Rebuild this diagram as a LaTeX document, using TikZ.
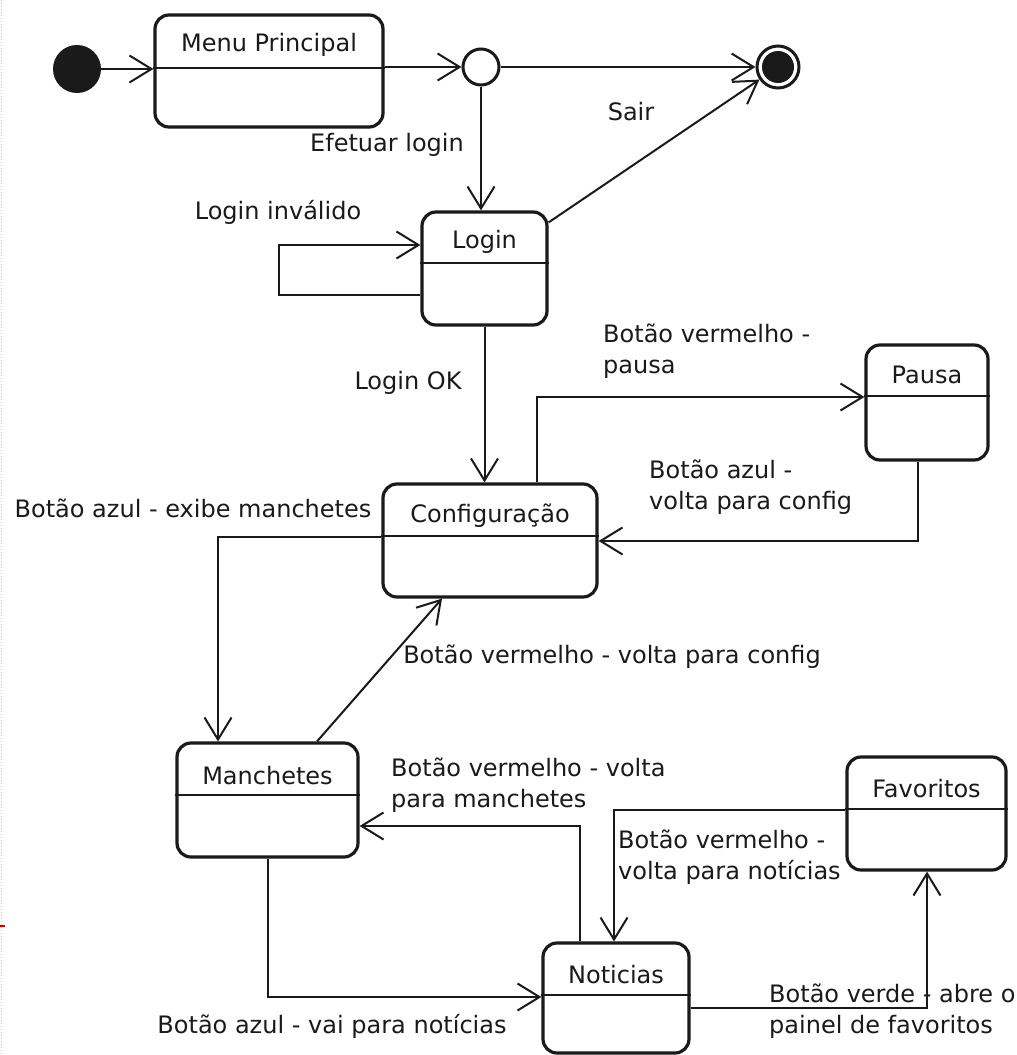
\documentclass[tikz,border=0pt]{standalone}
\usepackage{fontspec}
\setmainfont{DejaVu Sans}
\usetikzlibrary{arrows.meta}
\definecolor{ink}{HTML}{1A1A1A}
\tikzset{
  stbox/.style={draw=ink, line width=3.2pt, rounded corners=14pt, fill=white},
  stname/.style={font=\fontsize{24}{31}\selectfont, text=ink, inner sep=0pt},
  divider/.style={draw=ink, line width=2pt},
  trans/.style={draw=ink, line width=2pt, -{Straight Barb[length=22pt,width=27pt]}},
  lbl/.style={font=\fontsize{24}{31}\selectfont, text=ink, inner sep=0pt, align=left},
}
\begin{document}
\begin{tikzpicture}[x=1pt, y=-1pt]
\useasboundingbox[fill=white] (0,0) rectangle (1017,1055);
% page edge marks
\draw[gray!45, line width=1pt, dotted] (1,0) -- (1,1055);
\draw[red!80!black, line width=1.5pt] (0,926) -- (5,926);

% pseudo states
\node[circle, fill=ink, minimum size=48pt, inner sep=0pt] (init) at (77,69) {};
\node[circle, draw=ink, fill=white, line width=3pt, minimum size=36pt, inner sep=0pt] (choice) at (481,67) {};
\node[circle, draw=ink, fill=white, line width=3pt, minimum size=42pt, inner sep=0pt] (final) at (778,67) {};
\fill[ink] (final) circle (16pt);

% states
\node[stbox, minimum width=228pt, minimum height=112pt] (menu)   at (269,71)    {};
\node[stbox, minimum width=125pt, minimum height=113pt] (login)  at (484.5,268.5) {};
\node[stbox, minimum width=214pt, minimum height=113pt] (config) at (490,540.5) {};
\node[stbox, minimum width=122pt, minimum height=115pt] (pausa)  at (927,402.5) {};
\node[stbox, minimum width=181pt, minimum height=114pt] (manch)  at (267.5,800) {};
\node[stbox, minimum width=159pt, minimum height=113pt] (favor)  at (926.5,813.5) {};
\node[stbox, minimum width=146pt, minimum height=110pt] (notic)  at (616,998)   {};

% compartment lines
\draw[divider] (menu.west |- 0,68)    -- (menu.east |- 0,68);
\draw[divider] (login.west |- 0,263)  -- (login.east |- 0,263);
\draw[divider] (config.west |- 0,536) -- (config.east |- 0,536);
\draw[divider] (pausa.west |- 0,396)  -- (pausa.east |- 0,396);
\draw[divider] (manch.west |- 0,795)  -- (manch.east |- 0,795);
\draw[divider] (favor.west |- 0,809)  -- (favor.east |- 0,809);
\draw[divider] (notic.west |- 0,995)  -- (notic.east |- 0,995);

% state names
\node[stname] (menuT)   at (269,45)  {Menu Principal};
\node[stname] (loginT)  at (484.5,242) {Login};
\node[stname] (configT) at (490,516) {Configuração};
\node[stname] (pausaT)  at (927,375) {Pausa};
\node[stname] (manchT)  at (267.5,776) {Manchetes};
\node[stname] (favorT)  at (926.5,789) {Favoritos};
\node[stname] (noticT)  at (616,975) {Noticias};

% loop corners
\coordinate (loopA) at (279,295);
\coordinate (loopB) at (279,245);

% transitions
\draw[trans] (init.east) -- (init.east -| menu.west);
\draw[trans] (menu.east |- choice.west) -- (choice.west);
\draw[trans] (choice.east) -- (final.west);
\draw[trans] (choice.south) -- (choice.south |- login.north);
\draw[trans] ([yshift=-12pt]login.north east) -- (final);
\draw[trans] (login.west |- loopA) -- (loopA) -- (loopB) -- (login.west |- loopB);
\draw[trans] (login.south) -- (login.south |- config.north);
\draw[trans] (config.north -| 537,0) |- (pausa.west |- 0,397);
\draw[trans] (pausa.south -| 918,0) |- (config.east |- 0,541);
\draw[trans] (config.west |- 0,537) -| (manch.north -| 218,0);
\draw[trans] (manch.north -| 317,0) -- (config.south -| 442,0);
\draw[trans] (notic.north -| 580,0) |- (manch.east |- 0,826);
\draw[trans] (manch.south -| 268,0) |- (notic.west |- 0,997);
\draw[trans] (favor.west |- 0,810) -| (notic.north -| 614,0);
\draw[trans] (notic.east |- 0,1008) -| (favor.south -| 927,0);

% transition labels
\node[lbl] (lEfetuar) at (387,145) {Efetuar login};
\node[lbl] (lSair) at (631,112) {Sair};
\node[lbl] (lInvalido) at (278,212) {Login inválido};
\node[lbl] (lOK) at (408,383) {Login OK};
\node[lbl, anchor=west] (lPausa) at (603,351) {Botão vermelho -\\pausa};
\node[lbl, anchor=west] (lVoltaCfg) at (649,487) {Botão azul -\\volta para config};
\node[lbl] (lExibe) at (193,508) {Botão azul - exibe manchetes};
\node[lbl] (lVermCfg) at (612,657) {Botão vermelho - volta para config};
\node[lbl, anchor=west] (lVoltaMan) at (391,785) {Botão vermelho - volta\\para manchetes};
\node[lbl, anchor=west] (lVoltaNot) at (618,857) {Botão vermelho -\\volta para notícias};
\node[lbl] (lVai) at (332,1026) {Botão azul - vai para notícias};
\node[lbl, anchor=west] (lVerde) at (769,1011) {Botão verde - abre o\\painel de favoritos};
\end{tikzpicture}
\end{document}
